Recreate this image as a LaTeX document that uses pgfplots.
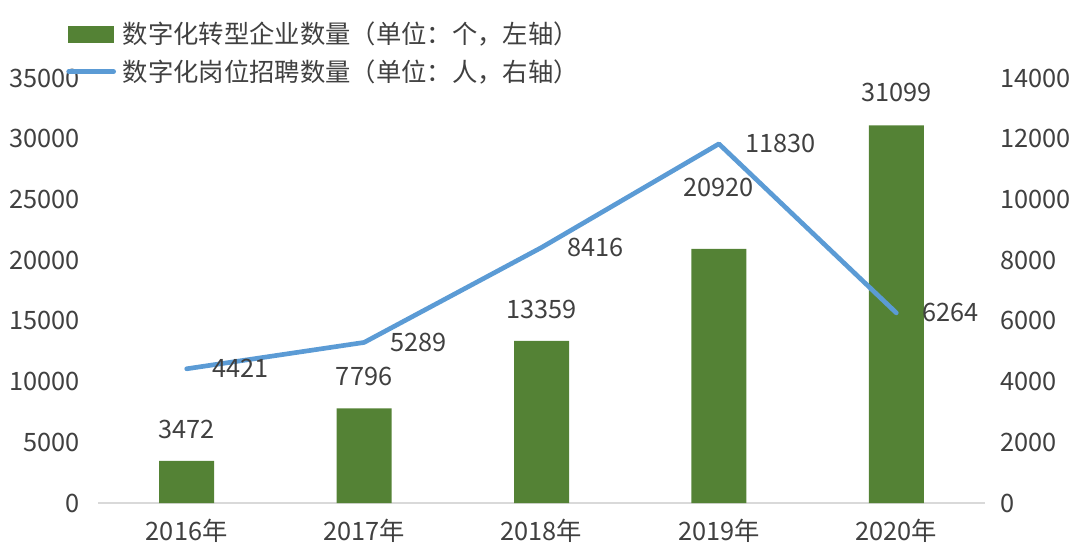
\documentclass[border=0pt]{standalone}
\usepackage{pgfplots}
\pgfplotsset{compat=1.18}
\usepackage{fontspec}
\setmainfont{Noto Sans CJK SC}
\definecolor{barg}{HTML}{548235}
\definecolor{lineb}{HTML}{5B9BD5}
\definecolor{txt}{HTML}{404040}
\definecolor{axl}{HTML}{D9D9D9}
\pgfplotsset{/pgf/number format/1000 sep={}}
\newcommand{\lf}{\fontsize{19}{22}\selectfont}
\begin{document}
\begin{tikzpicture}
\useasboundingbox (0,0) rectangle (804pt,410.25pt);
\begin{axis}[
  at={(73.5pt,33pt)}, anchor=south west,
  width=665.25pt, height=318.75pt, scale only axis,
  xmin=-0.5, xmax=4.5, ymin=0, ymax=35000,
  separate axis lines,
  axis x line*=bottom, axis y line*=left,
  x axis line style={draw=axl, line width=1pt, -},
  y axis line style={draw=none},
  tick style={draw=none}, major tick length=0pt,
  xtick={0,1,2,3,4},
  xticklabels={2016年,2017年,2018年,2019年,2020年},
  ytick={0,5000,...,35000},
  scaled y ticks=false,
  /pgf/number format/assume math mode=true,
  yticklabel style={/pgf/number format/fixed, anchor=east, inner sep=0pt, xshift=-13.5pt},
  xticklabel style={anchor=base, inner sep=0pt, yshift=-28pt},
  every tick label/.append style={font=\lf, text=txt},
  clip=false,
]
\addplot[ybar, bar width=41.25pt, bar shift=0pt, fill=barg, draw=none,
  nodes near coords,
  visualization depends on={\thisrow{dy} \as \dy},
  every node near coord/.append style={font=\lf, text=txt, anchor=center, yshift=\dy pt},
] table {
x y dy
0 3472 23.5
1 7796 24
2 13359 23.5
3 20920 46
4 31099 24.5
};
\end{axis}
\begin{axis}[
  at={(73.5pt,33pt)}, anchor=south west,
  width=665.25pt, height=318.75pt, scale only axis,
  xmin=-0.5, xmax=4.5, ymin=0, ymax=14000,
  axis x line=none,
  axis y line*=right,
  y axis line style={draw=none},
  tick style={draw=none}, major tick length=0pt,
  ytick={0,2000,...,14000},
  scaled y ticks=false,
  /pgf/number format/assume math mode=true,
  yticklabel style={/pgf/number format/fixed, anchor=west, inner sep=0pt, xshift=11.25pt},
  every tick label/.append style={font=\lf, text=txt},
  clip=false,
  legend style={at={(-0.036,1.132)}, anchor=north west, draw=none, fill=none,
    font=\lf, text=txt, inner sep=0pt, row sep=10.5pt,
    nodes={inner sep=0pt}},
  legend cell align=left,
]
\addlegendimage{legend image code/.code={\fill[barg] (0pt,-6pt) rectangle (33.75pt,6pt);}}
\addlegendentry{\hspace{5pt}数字化转型企业数量（单位：个，左轴）}
\addplot[lineb, line width=3.5pt, line cap=round, line join=round,
  legend image code/.code={\draw[lineb, line width=3.5pt, line cap=round] (0pt,0pt) -- (33.75pt,0pt);},
  nodes near coords,
  every node near coord/.append style={font=\lf, text=txt, anchor=west, xshift=14.5pt},
] table {
x y
0 4421
1 5289
2 8416
3 11830
4 6264
};
\addlegendentry{\hspace{5pt}数字化岗位招聘数量（单位：人，右轴）}
\end{axis}
\end{tikzpicture}
\end{document}
